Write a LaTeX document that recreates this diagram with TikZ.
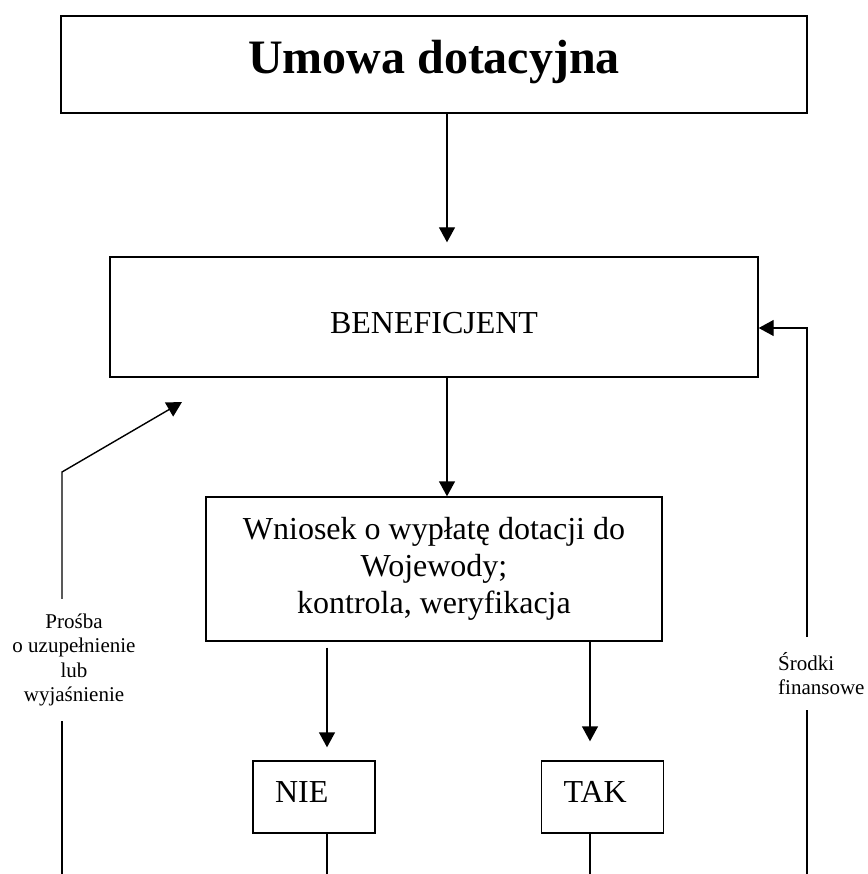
\documentclass[tikz,border=0pt]{standalone}
\usepackage{fontspec}
\setmainfont{Liberation Serif}
\usetikzlibrary{arrows.meta, positioning}

\begin{document}
\begin{tikzpicture}[
  x=1pt, y=-1pt,
  box/.style = {draw, line width=1.4pt, inner sep=0pt, align=center},
  answer/.style = {box, minimum height=72pt, text width=78pt, inner xsep=22pt, align=left, text depth=10pt, font=\fontsize{32}{37}\selectfont},
  note/.style = {inner xsep=0pt, inner ysep=15pt, font=\fontsize{21}{24.3}\selectfont},
  arrow/.style = {-{Triangle[length=15pt, width=16pt]}, line width=1.4pt},
  line/.style = {line width=1.4pt}
]
\useasboundingbox (0,0) rectangle (867,874);

% Main boxes
\node[box, minimum width=746pt, minimum height=97pt, text depth=16pt, font=\fontsize{48}{56}\selectfont\bfseries] (umowa) at (434,64.5) {Umowa dotacyjna};
\node[box, minimum width=648pt, minimum height=120pt, text height=33pt, font=\fontsize{32}{37}\selectfont] (benef) at (434,317) {BENEFICJENT};
\node[box, minimum width=456pt, minimum height=144pt, font=\fontsize{32}{37}\selectfont] (wniosek) at (434,569) {Wniosek o wypłatę dotacji do\\ Wojewody;\\ kontrola, weryfikacja};

% Decision boxes
\node[answer] (nie) at (314,797) {NIE};
\node[answer] (tak) at (602.5,797) {TAK};

% Side labels
\node[note, align=center] (prosba) at (74,660) {Prośba\\ o uzupełnienie\\ lub\\ wyjaśnienie};
\node[note, align=left, anchor=west] (srodki) at (778,673.5) {Środki\\ finansowe};

% Loose ends
\coordinate (probot) at (62,874);
\coordinate (probend) at (62,472);
\coordinate (protip) at (182,402);
\coordinate (finbot) at (807,874);
\coordinate (fintop) at (807,328);
\coordinate (niebot) at (327,874);
\coordinate (takbot) at (590,874);

% Arrows down
\draw[arrow, shorten >=14pt] ([xshift=13pt]umowa.south) -- ([xshift=13pt]benef.north);
\draw[arrow] ([xshift=13pt]benef.south) -- ([xshift=13pt]wniosek.north);
\draw[arrow, shorten <=6pt, shorten >=13pt] ([xshift=-107pt]wniosek.south) -- ([xshift=13pt]nie.north);
\draw[arrow, shorten >=19pt] ([xshift=156pt]wniosek.south) -- ([xshift=-12.5pt]tak.north);
\draw[line] ([xshift=13pt]nie.south) -- (niebot);
\draw[line] ([xshift=-12.5pt]tak.south) -- (takbot);

% Arrows back to BENEFICJENT
\draw[line] (probot) -- (probot |- prosba.south);
\draw[arrow] (probot |- prosba.north) -- (probend) -- (protip);
\draw[line] (finbot) -- (finbot |- srodki.south);
\draw[arrow] (finbot |- srodki.north) -- (fintop) -- ([yshift=-11pt]benef.east);
\end{tikzpicture}
\end{document}
